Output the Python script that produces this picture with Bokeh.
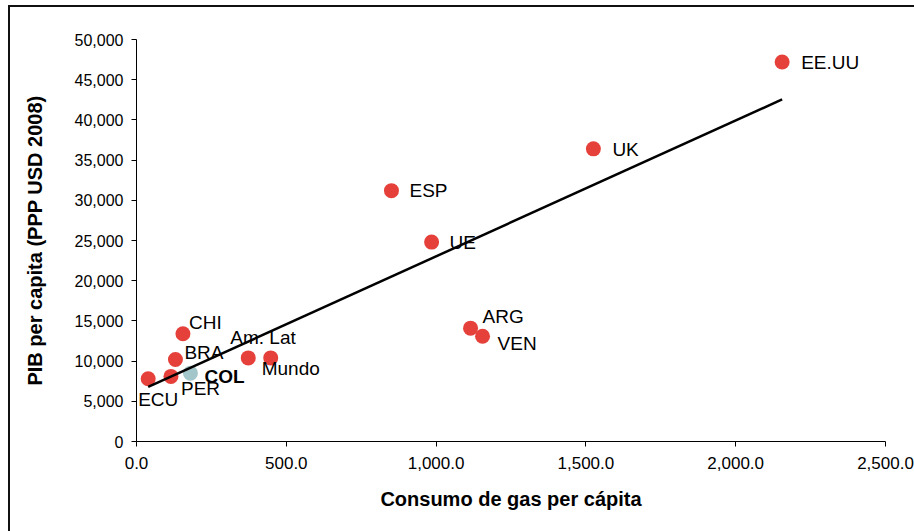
import numpy as np
from bokeh.plotting import figure
from bokeh.models import ColumnDataSource, Range1d, NumeralTickFormatter, FixedTicker
from bokeh.core.properties import value
from bokeh.embed import file_html
from bokeh.resources import INLINE

# Gas consumption per capita vs. GDP per capita (PPP, USD 2008)
paises = ["EE.UU", "UK", "ESP", "UE", "ARG", "VEN", "CHI", "BRA",
          "Am. Lat", "Mundo", "ECU", "PER", "COL"]
consumo_gas = [2155, 1525, 851, 985, 1115, 1155, 155, 130, 373, 448, 39, 115, 180]
pib_pc = [47200, 36400, 31200, 24800, 14100, 13100, 13400, 10200,
          10400, 10400, 7800, 8100, 8500]

x_ticks = [0, 500, 1000, 1500, 2000, 2500]
y_ticks = [0, 5000, 10000, 15000, 20000, 25000, 30000, 35000, 40000, 45000, 50000]

destacado = "COL"

# label placement relative to each marker (screen pixels)
label_offsets = {
    "EE.UU": (19, 0), "UK": (19, 1), "ESP": (18, 0), "UE": (18, 0),
    "ARG": (12, -12), "VEN": (15, 7), "CHI": (6, -11), "BRA": (9, -7),
    "COL": (14, 3), "PER": (10, 12), "ECU": (-10, 21),
    "Am. Lat": (-18, -20), "Mundo": (-9, 11),
}

RED = "#e5403a"
TEAL = "#a3c6ca"
FONT = "Liberation Sans"

colores = [TEAL if n == destacado else RED for n in paises]
src = ColumnDataSource(dict(
    x=consumo_gas, y=pib_pc, name=paises, color=colores,
    dx=[label_offsets[n][0] for n in paises],
    dy=[label_offsets[n][1] for n in paises],
    style=["bold" if n == destacado else "normal" for n in paises],
))

p = figure(frame_width=749, frame_height=402,
           min_border_left=126, min_border_right=29,
           min_border_top=32, min_border_bottom=90,
           x_range=Range1d(0, 2500), y_range=Range1d(0, 50000),
           output_backend="svg", toolbar_location=None)
p.styles = {"margin-left": "8px", "margin-top": "5px",
            "border-left": "2px solid #111", "border-top": "2px solid #111"}

p.outline_line_color = None
p.xgrid.grid_line_color = None
p.ygrid.grid_line_color = None
p.background_fill_color = "white"
p.border_fill_color = "white"

p.xaxis.ticker = FixedTicker(ticks=x_ticks)
p.yaxis.ticker = FixedTicker(ticks=y_ticks)
p.xaxis.formatter = NumeralTickFormatter(format="0,0.0")
p.yaxis.formatter = NumeralTickFormatter(format="0,0")

for ax in (p.xaxis, p.yaxis):
    ax.axis_line_color = "#000"
    ax.axis_line_width = 1
    ax.major_tick_line_color = "#000"
    ax.major_tick_out = 5
    ax.major_tick_in = 0
    ax.minor_tick_line_color = None
    ax.major_label_text_font = FONT
    ax.major_label_text_color = "#000"
    ax.axis_label_text_font = FONT
    ax.axis_label_text_font_size = "20px"
    ax.axis_label_text_font_style = "bold"
    ax.axis_label_text_color = "#000"

p.xaxis.major_label_text_font_size = "17px"
p.yaxis.major_label_text_font_size = "16px"
p.xaxis.major_label_standoff = 10
p.yaxis.major_label_standoff = 8
p.xaxis.axis_label = "Consumo de gas per cápita"
p.yaxis.axis_label = "PIB per capita (PPP USD 2008)"
p.xaxis.axis_label_standoff = 16
p.yaxis.axis_label_standoff = 26

p.scatter("x", "y", source=src, size=15, fill_color="color", line_color=None)

p.text("x", "y", text="name", source=src, x_offset="dx", y_offset="dy",
       text_font=value(FONT), text_font_size="19px", text_font_style="style",
       text_align="left", text_baseline="middle", text_color="#000")

# least-squares trend line across the data span
m, b = np.polyfit(consumo_gas, pib_pc, 1)
xs = [min(consumo_gas), max(consumo_gas)]
p.line(xs, [m * v + b for v in xs], line_color="#000", line_width=2.5)

open("out.html", "w").write(file_html(p, INLINE))
